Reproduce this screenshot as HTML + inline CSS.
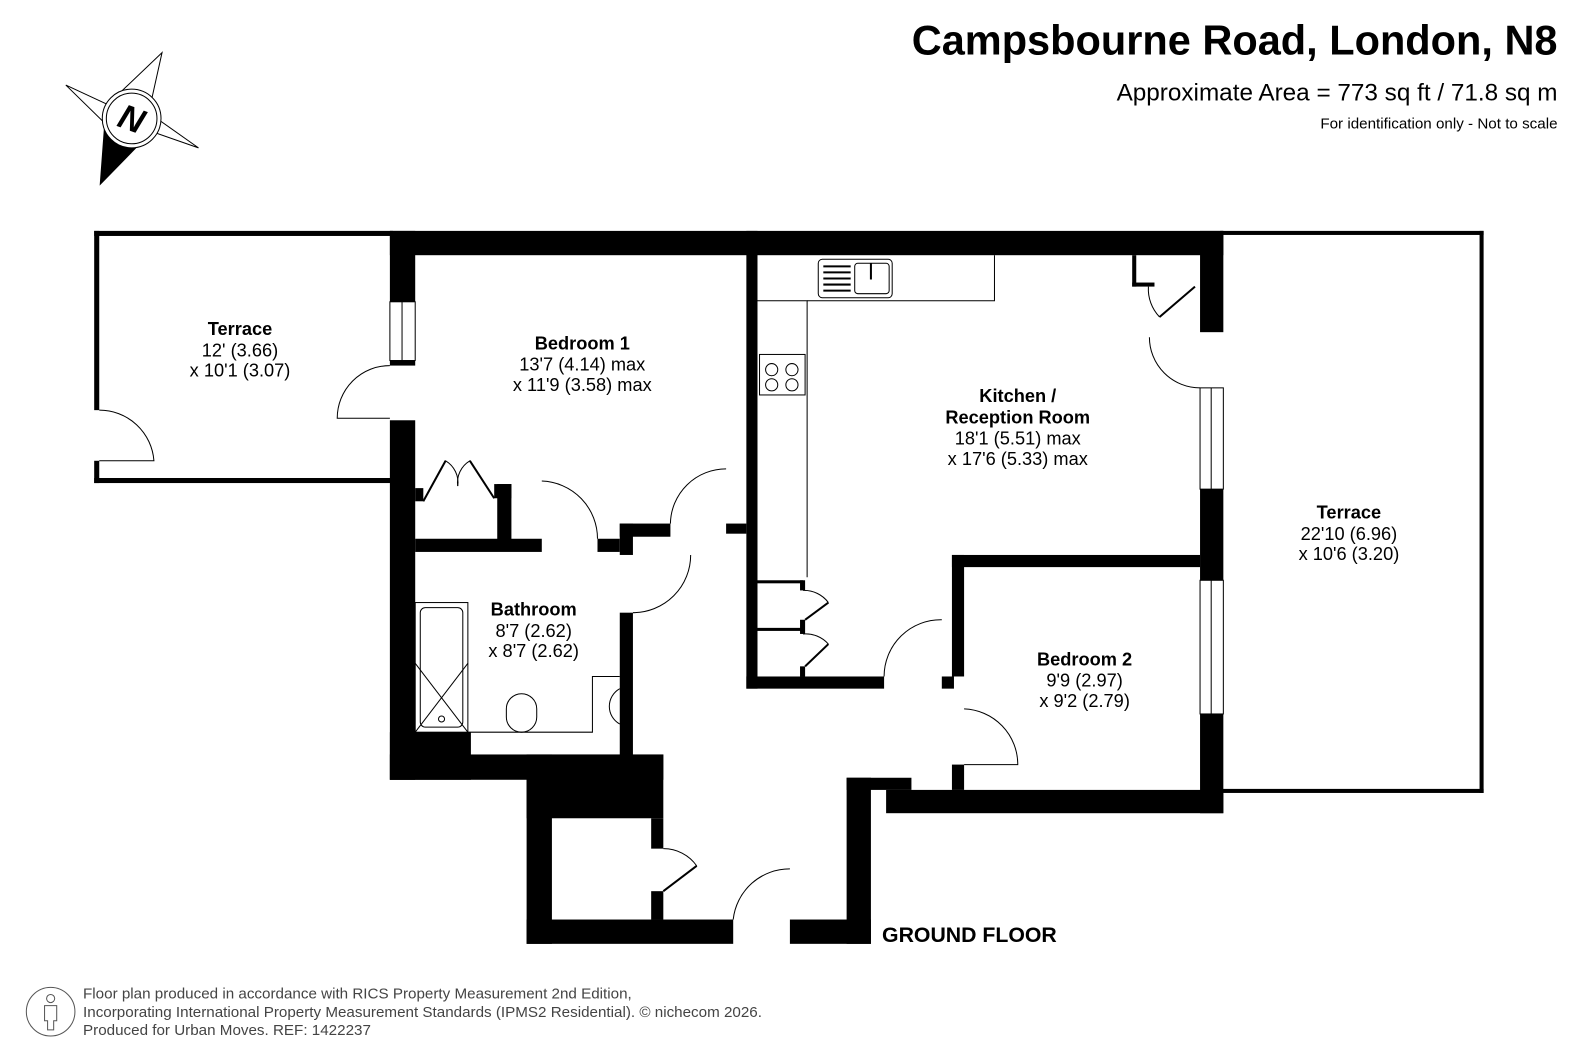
<!DOCTYPE html>
<html><head><meta charset="utf-8"><style>
html,body{margin:0;padding:0;background:#fff;}
svg{display:block;}
text{font-family:"Liberation Sans",Arial,sans-serif;fill:#000;}
.b{font-weight:bold;font-size:18px;}
.n{font-size:18px;}
</style></head><body>
<svg width="1587" height="1058" viewBox="0 0 1587 1058" xmlns="http://www.w3.org/2000/svg">
<g transform="scale(1.0127)">
<!-- header -->
<text x="1538" y="54" text-anchor="end" font-size="41" font-weight="bold">Campsbourne Road, London, N8</text>
<text x="1538" y="99" text-anchor="end" font-size="24">Approximate Area = 773 sq ft / 71.8 sq m</text>
<text x="1538" y="127" text-anchor="end" font-size="15">For identification only - Not to scale</text>
<!-- compass -->
<g stroke="#000" stroke-width="1" fill="#fff">
<polygon points="160,52 150,97 118,92"/>
<polygon points="65,84 108,104 110,128"/>
<polygon points="196,146 150,130 145,110"/>
<polygon points="99,182 103,128 140,140" fill="#000"/>
<circle cx="130" cy="117" r="29"/>
<circle cx="130" cy="117" r="25"/>
</g>
<text x="130" y="129" text-anchor="middle" font-size="34" font-weight="bold" font-style="italic" transform="rotate(20 130 117)">N</text>

<!-- terraces thin outlines -->
<g fill="#000">
<rect x="93" y="228" width="295" height="5"/>
<rect x="93" y="228" width="5" height="177"/>
<rect x="93" y="455" width="5" height="22"/>
<rect x="93" y="472" width="295" height="5"/>
<rect x="1205" y="228" width="260" height="4"/>
<rect x="1461" y="228" width="4" height="555"/>
<rect x="1205" y="779" width="260" height="4"/>
</g>
<path d="M98 405 A54 54 0 0 1 152 455 L98 455" fill="none" stroke="#000" stroke-width="1"/>

<!-- walls -->
<g fill="#000">
<rect x="385" y="228" width="823" height="24"/>
<rect x="385" y="228" width="25" height="70"/>
<rect x="385" y="356" width="25" height="5"/>
<rect x="385" y="415" width="25" height="355"/>
<rect x="410" y="482" width="8" height="13"/>
<rect x="488" y="478" width="17" height="14"/>
<rect x="491" y="478" width="14" height="60"/>
<rect x="410" y="532" width="125" height="13"/>
<rect x="590" y="532" width="22" height="13"/>
<rect x="612" y="517" width="50" height="13"/>
<rect x="612" y="517" width="13" height="31"/>
<rect x="612" y="605" width="13" height="142"/>
<rect x="717" y="517" width="20" height="10"/>
<rect x="737" y="228" width="11" height="452"/>
<rect x="737" y="668" width="136" height="12"/>
<rect x="930" y="668" width="12" height="12"/>
<rect x="940" y="548" width="12" height="120"/>
<rect x="940" y="548" width="245" height="12"/>
<rect x="940" y="755" width="12" height="25"/>
<rect x="1185" y="228" width="23" height="100"/>
<rect x="1185" y="483" width="23" height="90"/>
<rect x="1185" y="705" width="23" height="98"/>
<rect x="875" y="780" width="333" height="23"/>
<rect x="836" y="768" width="64" height="12"/>
<rect x="836" y="768" width="24" height="164"/>
<rect x="780" y="908" width="80" height="24"/>
<rect x="520" y="908" width="204" height="24"/>
<rect x="520" y="745" width="25" height="187"/>
<rect x="520" y="745" width="135" height="63"/>
<rect x="643" y="808" width="12" height="30"/>
<rect x="643" y="880" width="12" height="28"/>
<rect x="385" y="745" width="270" height="25"/>
<rect x="385" y="723" width="80" height="47"/>
<rect x="1118" y="252" width="4" height="31"/>
<rect x="1118" y="279" width="22" height="4"/>
<rect x="748" y="573" width="45" height="3"/>
<rect x="748" y="620" width="45" height="3"/>
<rect x="790" y="573" width="5" height="10"/>
<rect x="790" y="612" width="5" height="14"/>
<rect x="790" y="658" width="5" height="10"/>
</g>
<!-- windows -->
<g fill="#fff" stroke="#000" stroke-width="1">
<rect x="385" y="298" width="25" height="58"/>
<line x1="397" y1="298" x2="397" y2="356"/>
<rect x="1185" y="383" width="23" height="100"/>
<line x1="1196" y1="383" x2="1196" y2="483"/>
<rect x="1185" y="573" width="23" height="132"/>
<line x1="1196" y1="573" x2="1196" y2="705"/>
</g>
<!-- doors -->
<g fill="none" stroke="#000" stroke-width="1">
<path d="M385 361 A52 52 0 0 0 333 413 L385 413"/>
<path d="M535 475 A57 57 0 0 1 590 532"/>
<path d="M682 548 A57 57 0 0 1 625 605"/>
<path d="M717 463 A55 55 0 0 0 662 517"/>
<path d="M930 612 A56 56 0 0 0 873 668"/>
<path d="M952 700 A55 55 0 0 1 1005 755 L952 755"/>
<path d="M1135 333 A50 50 0 0 0 1185 383"/>
<path d="M1134 283 A40 40 0 0 0 1145 313"/>
<path d="M780 858 A56 56 0 0 0 724 908"/>
<path d="M655 838 A40 40 0 0 1 688 855"/>
<path d="M793 583 A30 30 0 0 1 818 595"/>
<path d="M793 626 A30 30 0 0 1 818 636"/>
<path d="M418 495 L440 455 A25 25 0 0 1 452 480"/>
<path d="M488 492 L464 455 A25 25 0 0 0 452 480"/>
<polyline points="748,297 797,297 797,570"/>
<polyline points="797,297 982,297 982,252"/>
<rect x="410" y="595" width="52" height="128"/>
<rect x="415" y="600" width="42" height="118" rx="5"/>
<line x1="410" y1="655" x2="462" y2="723"/>
<line x1="462" y1="655" x2="410" y2="723"/>
<circle cx="436" cy="710" r="3"/>
<polyline points="462,723 585,723 585,668 612,668"/>
<rect x="500" y="685" width="30" height="38" rx="15"/>
<path d="M612 680 A20 20 0 0 0 612 715"/>
</g>
<g fill="none" stroke="#000" stroke-width="2">
<line x1="1145" y1="313" x2="1180" y2="283"/>
<line x1="655" y1="880" x2="688" y2="855"/>
<line x1="795" y1="612" x2="818" y2="595"/>
<line x1="795" y1="658" x2="818" y2="636"/>
<line x1="418" y1="495" x2="440" y2="455"/>
<line x1="488" y1="492" x2="464" y2="455"/>
</g>
<g fill="#fff" stroke="#000" stroke-width="1">
<rect x="808" y="256" width="73" height="38" rx="4"/>
<rect x="844" y="260" width="34" height="30" rx="3"/>
<rect x="750" y="350" width="45" height="40"/>
<circle cx="762" cy="365" r="6"/>
<circle cx="782" cy="365" r="6"/>
<circle cx="762" cy="380" r="6"/>
<circle cx="782" cy="380" r="6"/>
</g>
<g stroke="#000" stroke-width="2">
<line x1="813" y1="263" x2="840" y2="263"/><line x1="813" y1="269" x2="840" y2="269"/>
<line x1="813" y1="275" x2="840" y2="275"/><line x1="813" y1="281" x2="840" y2="281"/>
<line x1="813" y1="287" x2="840" y2="287"/>
<line x1="860" y1="260" x2="860" y2="276"/>
</g>

<!-- labels -->
<text class="b" x="237" y="331" text-anchor="middle">Terrace</text>
<text class="n" x="237" y="352" text-anchor="middle">12' (3.66)</text>
<text class="n" x="237" y="372" text-anchor="middle">x 10'1 (3.07)</text>
<text class="b" x="575" y="345" text-anchor="middle">Bedroom 1</text>
<text class="n" x="575" y="366" text-anchor="middle">13'7 (4.14) max</text>
<text class="n" x="575" y="386" text-anchor="middle">x 11'9 (3.58) max</text>
<text class="b" x="1005" y="397" text-anchor="middle">Kitchen /</text>
<text class="b" x="1005" y="418" text-anchor="middle">Reception Room</text>
<text class="n" x="1005" y="439" text-anchor="middle">18'1 (5.51) max</text>
<text class="n" x="1005" y="459" text-anchor="middle">x 17'6 (5.33) max</text>
<text class="b" x="1332" y="512" text-anchor="middle">Terrace</text>
<text class="n" x="1332" y="533" text-anchor="middle">22'10 (6.96)</text>
<text class="n" x="1332" y="553" text-anchor="middle">x 10'6 (3.20)</text>
<text class="b" x="527" y="608" text-anchor="middle">Bathroom</text>
<text class="n" x="527" y="629" text-anchor="middle">8'7 (2.62)</text>
<text class="n" x="527" y="649" text-anchor="middle">x 8'7 (2.62)</text>
<text class="b" x="1071" y="657" text-anchor="middle">Bedroom 2</text>
<text class="n" x="1071" y="678" text-anchor="middle">9'9 (2.97)</text>
<text class="n" x="1071" y="698" text-anchor="middle">x 9'2 (2.79)</text>
<text x="871" y="930" font-size="21" font-weight="bold">GROUND FLOOR</text>

<!-- footer -->
<g fill="none" stroke="#555" stroke-width="1">
<circle cx="50" cy="999" r="24"/>
<circle cx="50" cy="986" r="4"/>
<path d="M44 993 L56 993 L56 1008 L53 1008 L53 1017 L47 1017 L47 1008 L44 1008 Z"/>
</g>
<text x="82" y="986" font-size="15" style="fill:#444">Floor plan produced in accordance with RICS Property Measurement 2nd Edition,</text>
<text x="82" y="1004" font-size="15" style="fill:#444">Incorporating International Property Measurement Standards (IPMS2 Residential).   © nichecom 2026.</text>
<text x="82" y="1022" font-size="15" style="fill:#444">Produced for Urban Moves.   REF: 1422237</text>
</g>
</svg>
</body></html>
